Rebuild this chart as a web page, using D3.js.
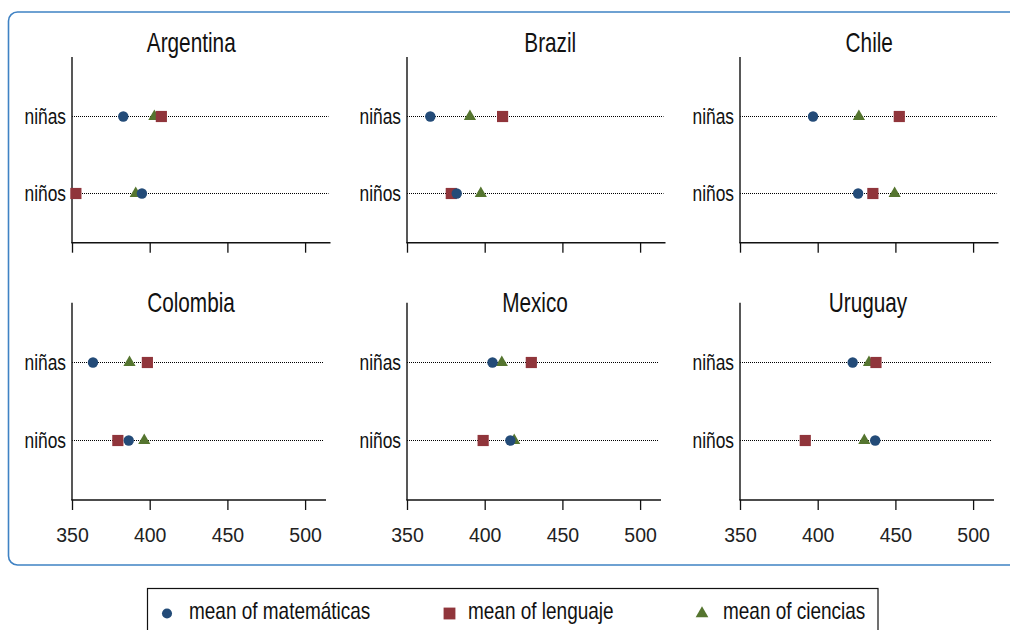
<!DOCTYPE html>
<html>
<head>
<meta charset="utf-8">
<script src="https://cdn.jsdelivr.net/npm/d3@7"></script>
<style>
  html, body { margin: 0; padding: 0; background: #fff; }
  svg { display: block; }
  text { font-family: "Liberation Sans", Arial, Helvetica, sans-serif; }
</style>
</head>
<body>
<svg id="chart" width="1010" height="630"></svg>
<script>
// ---- data ----
const countries = ["Argentina", "Brazil", "Chile", "Colombia", "Mexico", "Uruguay"];
const groups = ["niñas", "niños"];
const mathNinas = [383, 365, 397, 363.5, 405, 422.5];
const mathNinos = [395, 382, 426, 386.5, 416.5, 437];
const lengNinas = [407.5, 411.5, 452.5, 398.5, 430, 437.5];
const lengNinos = [352.5, 378.5, 435.5, 379.5, 399, 392];
const cienNinas = [403, 390.5, 426.5, 387, 411, 433];
const cienNinos = [391, 397.5, 449.5, 396.5, 419, 430];
const xTicks = [350, 400, 450, 500];
const seriesNames = ["mean of matemáticas", "mean of lenguaje", "mean of ciencias"];

// ---- styles / layout ----
const colors = { math: "#234b78", leng: "#90353b", cien: "#55752f" };
const colX = [72, 407, 740];
const rows = [
  { top: 57, axisY: 242.7, titleY: 51.7, w: 258.5, ninasY: 116.5, ninosY: 193.5, labels: false },
  { top: 302.7, axisY: 500, titleY: 311.7, w: 254, ninasY: 362.5, ninosY: 440.5, labels: true }
];
const titleDx = [-10, 14, 0, -8, 1, 1];

const svg = d3.select("#chart");

// helper: condensed text via horizontal scaling
function narrowText(parent, xPos, yPos, str, size, sx, anchor) {
  return parent.append("text")
    .attr("transform", `translate(${xPos},${yPos}) scale(${sx},1)`)
    .attr("text-anchor", anchor).attr("font-size", size).attr("fill", "#111")
    .text(str);
}

// outer rounded frame
svg.append("rect")
  .attr("x", 8.5).attr("y", 12).attr("width", 1020).attr("height", 553)
  .attr("rx", 9).attr("ry", 9)
  .attr("fill", "none").attr("stroke", "#3f82c4").attr("stroke-width", 1.6);

const x = d3.scaleLinear().domain([350, 516]).range([0, 166 * 1.554]);

const circleSym = d3.symbol().type(d3.symbolCircle).size(85)();
const squareSym = d3.symbol().type(d3.symbolSquare).size(125)();
const triSym = d3.symbol().type(d3.symbolTriangle).size(64)();

countries.forEach((c, i) => {
  const r = rows[Math.floor(i / 3)];
  const gx = colX[i % 3];
  const g = svg.append("g").attr("transform", `translate(${gx},0)`);
  const y = d3.scalePoint().domain(groups).range([r.ninasY, r.ninosY]);

  // title
  narrowText(g, r.w / 2 + titleDx[i], r.titleY, c, 27.5, 0.755, "middle");

  // dotted guide lines
  g.selectAll("line.guide").data(groups).join("line")
    .attr("class", "guide")
    .attr("x1", 0).attr("x2", r.w - 2)
    .attr("y1", d => y(d)).attr("y2", d => y(d))
    .attr("stroke", "#000").attr("stroke-width", 1).attr("stroke-dasharray", "1,1");

  // y labels
  groups.forEach(gn => {
    narrowText(g, -6, y(gn), gn, 22, 0.79, "end").attr("dy", "0.36em");
  });

  // axes lines
  g.append("line").attr("x1", 0).attr("x2", 0).attr("y1", r.top).attr("y2", r.axisY)
    .attr("stroke", "#111").attr("stroke-width", 1.4);
  g.append("line").attr("x1", -0.7).attr("x2", r.w).attr("y1", r.axisY).attr("y2", r.axisY)
    .attr("stroke", "#111").attr("stroke-width", 1.4);

  const ax = g.append("g").attr("transform", `translate(0,${r.axisY})`)
    .call(d3.axisBottom(x).tickValues(xTicks).tickSize(10).tickPadding(18.5)
      .tickFormat(r.labels ? d3.format("d") : () => ""));
  ax.attr("font-family", null);
  ax.select(".domain").remove();
  ax.selectAll(".tick line").attr("stroke", "#111").attr("stroke-width", 1.3);
  ax.selectAll(".tick text").attr("font-size", 19.5).attr("fill", "#222");

  // markers: triangles, squares, circles
  const pts = (vals) => groups.map((gname, k) => ({ g: gname, v: vals[k] }));
  g.selectAll("path.cien").data(pts([cienNinas[i], cienNinos[i]])).join("path")
    .attr("class", "cien").attr("d", triSym).attr("fill", colors.cien)
    .attr("transform", d => `translate(${x(d.v)},${y(d.g)})`);
  g.selectAll("path.leng").data(pts([lengNinas[i], lengNinos[i]])).join("path")
    .attr("class", "leng").attr("d", squareSym).attr("fill", colors.leng)
    .attr("transform", d => `translate(${x(d.v)},${y(d.g)})`);
  g.selectAll("path.math").data(pts([mathNinas[i], mathNinos[i]])).join("path")
    .attr("class", "math").attr("d", circleSym).attr("fill", colors.math)
    .attr("transform", d => `translate(${x(d.v)},${y(d.g)})`);
});

// legend
const lg = svg.append("g");
lg.append("rect").attr("x", 147.5).attr("y", 588.5).attr("width", 730.5).attr("height", 60)
  .attr("fill", "#fff").attr("stroke", "#111").attr("stroke-width", 1.2);
const legendItems = [
  { sym: d3.symbol().type(d3.symbolCircle).size(80)(), color: colors.math, mx: 167, tx: 189 },
  { sym: d3.symbol().type(d3.symbolSquare).size(140)(), color: colors.leng, mx: 449.5, tx: 468 },
  { sym: d3.symbol().type(d3.symbolTriangle).size(70)(), color: colors.cien, mx: 702, tx: 723 }
];
legendItems.forEach((it, k) => {
  lg.append("path").attr("d", it.sym).attr("fill", it.color)
    .attr("transform", `translate(${it.mx},613.5)`);
  narrowText(lg, it.tx, 619, seriesNames[k], 23, 0.825, "start");
});
</script>
</body>
</html>
